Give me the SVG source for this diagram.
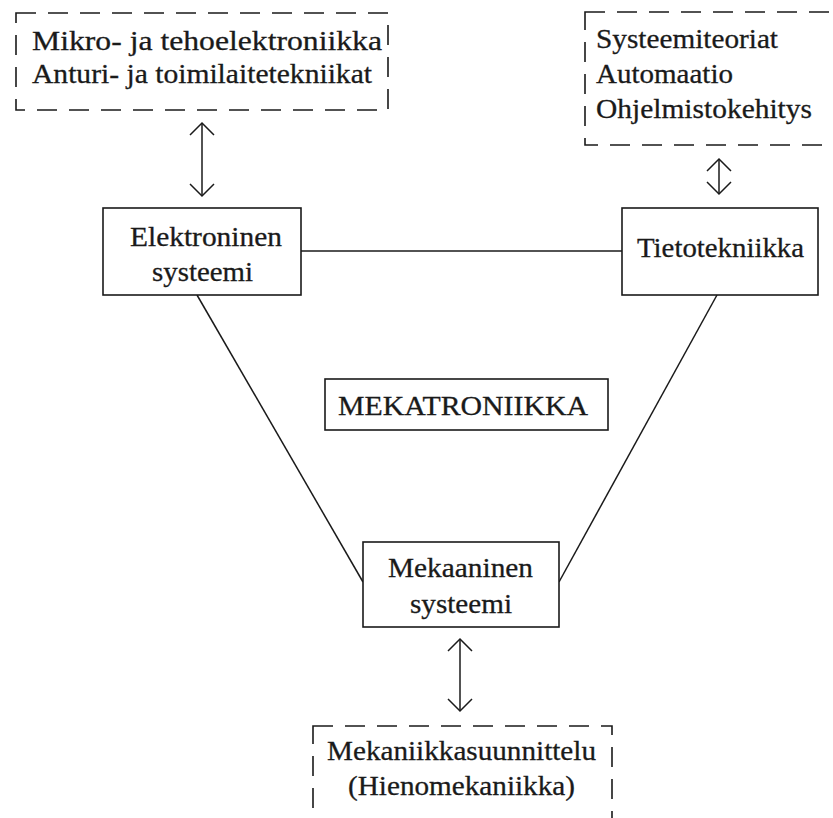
<svg xmlns="http://www.w3.org/2000/svg" width="833" height="818" viewBox="0 0 833 818">
  <style>
    .t { font-family: "Liberation Serif", "Times New Roman", serif; font-size: 28px; fill: #1a1a1a; stroke: #1a1a1a; stroke-width: 0.3; }
    .box { fill: #ffffff; stroke: #1a1a1a; stroke-width: 1.6; }
    .dash { fill: none; stroke: #1a1a1a; stroke-width: 1.6; stroke-dasharray: 20 12; }
    .line { fill: none; stroke: #1a1a1a; stroke-width: 1.5; }
  </style>
  <defs>
    <marker id="open" viewBox="0 0 30 30" refX="15" refY="15" markerWidth="30" markerHeight="30" markerUnits="userSpaceOnUse" orient="auto-start-reverse">
      <polyline points="3,3 15,15 3,27" fill="none" stroke="#1a1a1a" stroke-width="1.5"/>
    </marker>
  </defs>
  <rect width="833" height="818" fill="#ffffff"/>

  <!-- surrounding dashed topic boxes -->
  <g id="elektroniikka-aiheet">
    <rect class="dash" x="16" y="13" width="372" height="97"/>
    <text class="t" x="32" y="50" textLength="350" lengthAdjust="spacingAndGlyphs">Mikro- ja tehoelektroniikka</text>
    <text class="t" x="32" y="83" textLength="340" lengthAdjust="spacingAndGlyphs">Anturi- ja toimilaitetekniikat</text>
  </g>

  <g id="tietotekniikka-aiheet">
    <rect class="dash" x="585" y="12" width="260" height="133"/>
    <text class="t" x="596" y="48" textLength="182" lengthAdjust="spacingAndGlyphs">Systeemiteoriat</text>
    <text class="t" x="596" y="83" textLength="137" lengthAdjust="spacingAndGlyphs">Automaatio</text>
    <text class="t" x="596" y="118" textLength="216" lengthAdjust="spacingAndGlyphs">Ohjelmistokehitys</text>
  </g>

  <g id="mekaniikka-aiheet">
    <rect class="dash" x="313" y="726" width="299" height="110"/>
    <text class="t" x="327" y="760" textLength="269" lengthAdjust="spacingAndGlyphs">Mekaniikkasuunnittelu</text>
    <text class="t" x="348" y="795" textLength="227" lengthAdjust="spacingAndGlyphs">(Hienomekaniikka)</text>
  </g>

  <!-- connectors -->
  <g id="connectors">
    <line class="line" x1="301" y1="251" x2="622" y2="251"/>
    <line class="line" x1="197" y1="295" x2="363" y2="582"/>
    <line class="line" x1="717" y1="295" x2="559" y2="582"/>
    <line class="line" x1="202" y1="123" x2="202" y2="196" marker-start="url(#open)" marker-end="url(#open)"/>
    <line class="line" x1="719" y1="159" x2="719" y2="194" marker-start="url(#open)" marker-end="url(#open)"/>
    <line class="line" x1="460" y1="639" x2="460" y2="711" marker-start="url(#open)" marker-end="url(#open)"/>
  </g>

  <!-- main system nodes -->
  <g id="elektroninen-systeemi">
    <rect class="box" x="103" y="208" width="198" height="87"/>
    <text class="t" x="130" y="246" textLength="152" lengthAdjust="spacingAndGlyphs">Elektroninen</text>
    <text class="t" x="152" y="281" textLength="101" lengthAdjust="spacingAndGlyphs">systeemi</text>
  </g>

  <g id="tietotekniikka">
    <rect class="box" x="622" y="208" width="196" height="87"/>
    <text class="t" x="637" y="257" textLength="167" lengthAdjust="spacingAndGlyphs">Tietotekniikka</text>
  </g>

  <g id="mekatroniikka">
    <rect class="box" x="325" y="379" width="283" height="51"/>
    <text class="t" x="338" y="415" textLength="250" lengthAdjust="spacingAndGlyphs">MEKATRONIIKKA</text>
  </g>

  <g id="mekaaninen-systeemi">
    <rect class="box" x="363" y="542" width="196" height="85"/>
    <text class="t" x="388" y="577" textLength="145" lengthAdjust="spacingAndGlyphs">Mekaaninen</text>
    <text class="t" x="410" y="613" textLength="102" lengthAdjust="spacingAndGlyphs">systeemi</text>
  </g>
</svg>
